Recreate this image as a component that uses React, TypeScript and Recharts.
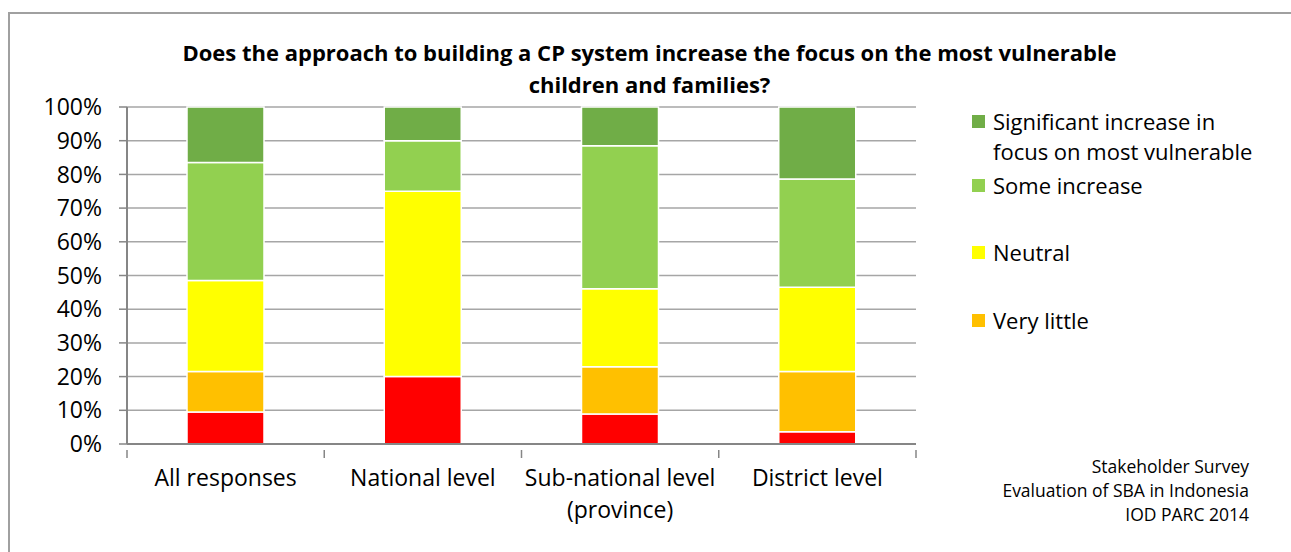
import React from 'react';
import { BarChart, Bar, XAxis, YAxis, CartesianGrid } from 'recharts';

// categories and the share of answers per category (percent)
const categories = ['All responses', 'National level', 'Sub-national level (province)', 'District level'];
const none = [9.5, 20, 8.9, 3.6];
const veryLittle = [12, 0, 14, 17.9];
const neutral = [27, 55, 23.2, 25];
const someIncrease = [35, 15, 42.4, 32.1];
const significant = [16.5, 10, 11.5, 21.4];
const yTicks = [0, 0.1, 0.2, 0.3, 0.4, 0.5, 0.6, 0.7, 0.8, 0.9, 1];

const series = [
  { key: 'none', name: 'None', color: '#ff0000' },
  { key: 'veryLittle', name: 'Very little', color: '#ffc000' },
  { key: 'neutral', name: 'Neutral', color: '#ffff00' },
  { key: 'someIncrease', name: 'Some increase', color: '#92d050' },
  { key: 'significant', name: 'Significant increase in focus on most vulnerable', color: '#70ad47' },
];

const data = categories.map((c, i) => ({
  category: c,
  none: none[i],
  veryLittle: veryLittle[i],
  neutral: neutral[i],
  someIncrease: someIncrease[i],
  significant: significant[i],
}));

const FONT = '"Open Sans", sans-serif';
const W = 1291;
const H = 552;
const M = { top: 107, right: 375, left: 67, bottom: 48 };
const Y_AXIS_W = 60;
const BAND = (W - M.left - M.right - Y_AXIS_W) / categories.length;

// simple word wrap for long category names
const wrap = (s: string, max: number) => {
  const lines: string[] = [];
  let cur = '';
  s.split(' ').forEach(w => {
    if (cur && (cur + ' ' + w).length > max) {
      lines.push(cur);
      cur = w;
    } else {
      cur = cur ? cur + ' ' + w : w;
    }
  });
  if (cur) lines.push(cur);
  return lines;
};

const CategoryTick = (props: any) => {
  const { x, y, payload, index } = props;
  const lines = wrap(payload.value, 18);
  const axisY = y - 20;
  return (
    <g>
      <line x1={x - BAND / 2} x2={x - BAND / 2} y1={axisY} y2={axisY + 8} stroke="#868686" strokeWidth={1.5} />
      {index === categories.length - 1 && (
        <line x1={x + BAND / 2} x2={x + BAND / 2} y1={axisY} y2={axisY + 8} stroke="#868686" strokeWidth={1.5} />
      )}
      <text x={x} y={y} textAnchor="middle" fontSize={23} fontFamily={FONT} fill="#000">
        {lines.map((l, i) => (
          <tspan key={i} x={x} dy={i === 0 ? '0.71em' : 32}>{l}</tspan>
        ))}
      </text>
    </g>
  );
};

// legend entries, top to bottom
const legendRows = [
  { label: 'Significant increase in', sub: 'focus on most vulnerable', key: 'significant', top: 106 },
  { label: 'Some increase', key: 'someIncrease', top: 170 },
  { label: 'Neutral', key: 'neutral', top: 237 },
  { label: 'Very little', key: 'veryLittle', top: 305 },
];

export default function App() {
  const colorOf = (k: string) => series.find(s => s.key === k)!.color;
  return (
    <div style={{ position: 'absolute', left: 0, top: 0, width: W, height: H, background: '#fff', fontFamily: FONT, overflow: 'hidden' }}>
      <div style={{ position: 'absolute', left: 8, top: 12, width: 1290, height: 550, borderLeft: '2px solid #a0a0a0', borderTop: '2px solid #a0a0a0' }} />
      <div style={{ position: 'absolute', left: 8, width: 1283, top: 36, textAlign: 'center', fontWeight: 700, fontSize: 22, lineHeight: '32px', color: '#000' }}>
        Does the approach to building a CP system increase the focus on the most vulnerable<br />children and families?
      </div>
      <BarChart
        width={W}
        height={H}
        data={data}
        stackOffset="expand"
        margin={M}
        style={{ position: 'absolute', left: 0, top: 0 }}
      >
        <CartesianGrid vertical={false} stroke="#a6a6a6" strokeWidth={1.5} />
        <XAxis
          dataKey="category"
          height={60}
          axisLine={{ stroke: '#868686', strokeWidth: 2 }}
          tickLine={false}
          tickMargin={20}
          tick={<CategoryTick />}
          interval={0}
        />
        <YAxis
          width={Y_AXIS_W}
          domain={[0, 1]}
          ticks={yTicks}
          tickFormatter={(v: number) => `${Math.round(v * 100)}%`}
          axisLine={{ stroke: '#868686', strokeWidth: 2 }}
          tickLine={{ stroke: '#868686', strokeWidth: 1.5 }}
          tickSize={8}
          tickMargin={17}
          tick={{ fontSize: 23, fontFamily: FONT, fill: '#000' }}
        />
        {series.map(s => (
          <Bar
            key={s.key}
            dataKey={s.key}
            name={s.name}
            stackId="a"
            fill={s.color}
            stroke="#ffffff"
            strokeWidth={1.5}
            barSize={77}
            isAnimationActive={false}
          />
        ))}
      </BarChart>
      {legendRows.map(r => (
        <div key={r.key} style={{ position: 'absolute', left: 972, top: r.top, fontSize: 22, lineHeight: '30px', color: '#000' }}>
          <span style={{ position: 'absolute', left: 0, top: 9, width: 13, height: 13, background: colorOf(r.key) }} />
          <div style={{ marginLeft: 21, whiteSpace: 'nowrap' }}>
            {r.label}
            {r.sub && <br />}
            {r.sub}
          </div>
        </div>
      ))}
      <div style={{ position: 'absolute', right: 42, top: 454, textAlign: 'right', fontSize: 17.5, lineHeight: '24px', color: '#000' }}>
        Stakeholder Survey<br />Evaluation of SBA in Indonesia<br />IOD PARC 2014
      </div>
    </div>
  );
}
